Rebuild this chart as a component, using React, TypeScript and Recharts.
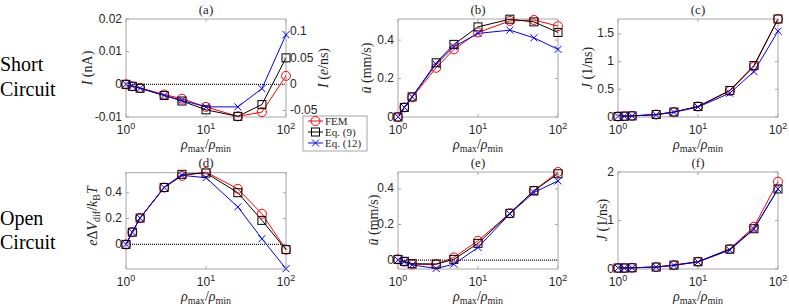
import React from "react";
import { LineChart, Line, XAxis, YAxis, ReferenceLine, ReferenceArea } from "recharts";

// density ratio rho_max / rho_min
const rho = [1, 1.2, 1.5, 3, 5, 10, 25, 50, 100];

// (a) short circuit current I (nA)
const aFem = [0, -0.0006, -0.0011, -0.0031, -0.0044, -0.0069, -0.0098, -0.0085, 0.0026];
const aEq9 = [0, -0.0006, -0.0012, -0.0034, -0.0051, -0.0078, -0.0098, -0.0062, 0.0081];
const aEq12 = [0, -0.0005, -0.0012, -0.0034, -0.0049, -0.0069, -0.0069, -0.0013, 0.0152];
// 1 nA expressed in e/ns, for the right hand axis of (a)
const NA_TO_E_PER_NS = 6.2415;

// (b) short circuit mean velocity (mm/s)
const bFem = [0, 0.05, 0.102, 0.256, 0.352, 0.44, 0.5, 0.505, 0.473];
const bEq9 = [0, 0.05, 0.105, 0.282, 0.378, 0.469, 0.509, 0.495, 0.44];
const bEq12 = [0, 0.05, 0.105, 0.275, 0.366, 0.435, 0.452, 0.412, 0.352];

// (c) short circuit flux J (1/ns)
const cFem = [0.01, 0.015, 0.02, 0.045, 0.09, 0.19, 0.47, 0.91, 1.77];
const cEq9 = [0.01, 0.015, 0.02, 0.045, 0.09, 0.19, 0.48, 0.93, 1.77];
const cEq12 = [0.01, 0.015, 0.02, 0.04, 0.085, 0.18, 0.43, 0.82, 1.55];

// (d) open circuit diffusion potential
const dFem = [0, 0.095, 0.204, 0.44, 0.53, 0.56, 0.43, 0.237, -0.04];
const dEq9 = [0, 0.095, 0.204, 0.44, 0.542, 0.552, 0.4, 0.186, -0.04];
const dEq12 = [0, 0.095, 0.204, 0.44, 0.534, 0.516, 0.29, 0.044, -0.188];

// (e) open circuit mean velocity (mm/s)
const eFem = [0.004, -0.009, -0.024, -0.024, 0.015, 0.109, 0.263, 0.39, 0.495];
const eEq9 = [0.004, -0.007, -0.02, -0.022, 0.004, 0.094, 0.263, 0.39, 0.485];
const eEq12 = [0, -0.01, -0.027, -0.047, -0.023, 0.071, 0.26, 0.38, 0.445];

// (f) open circuit flux J (1/ns)
const fFem = [0.02, 0.02, 0.025, 0.04, 0.08, 0.15, 0.41, 0.87, 1.8];
const fEq9 = [0.02, 0.02, 0.025, 0.04, 0.08, 0.15, 0.41, 0.83, 1.65];
const fEq12 = [0.02, 0.02, 0.025, 0.04, 0.075, 0.145, 0.39, 0.82, 1.65];

const xTicks = [1, 10, 100];

const RED = "#ff0000";
const BLACK = "#000000";
const BLUE = "#0000ff";
const BOX = "#a6a6a6";
const TXT = "#262626";
const SANS = "'Liberation Sans', Arial, sans-serif";
const SERIF = "'Liberation Serif', 'Times New Roman', serif";

const PAD_L = 50;
const PAD_R = 50;
const PAD_T = 10;
const PAD_B = 30;

const circleDot = (p: any) => (
  <circle key={p.index} cx={p.cx} cy={p.cy} r={4.5} fill="none" stroke={RED} strokeWidth={1} />
);
const squareDot = (p: any) => (
  <rect key={p.index} x={p.cx - 4} y={p.cy - 4} width={8} height={8} fill="none" stroke={BLACK} strokeWidth={1} />
);
const crossDot = (p: any) => (
  <path
    key={p.index}
    d={`M${p.cx - 3.5},${p.cy - 3.5}L${p.cx + 3.5},${p.cy + 3.5}M${p.cx - 3.5},${p.cy + 3.5}L${p.cx + 3.5},${p.cy - 3.5}`}
    stroke={BLUE}
    strokeWidth={1}
  />
);

function XTick(props: any) {
  const { x, y, payload, h } = props;
  const exp = Math.round(Math.log10(payload.value));
  return (
    <g>
      <line x1={x} y1={y} x2={x} y2={y - 3} stroke={BOX} />
      <line x1={x} y1={y - h} x2={x} y2={y - h + 3} stroke={BOX} />
      <text x={x} y={y + 17} textAnchor="middle" fontFamily={SANS} fontSize={12} fill={TXT}>
        10
        <tspan dy={-5} fontSize={9}>
          {exp}
        </tspan>
      </text>
    </g>
  );
}

function YTick(props: any) {
  const { x, y, payload, w, side } = props;
  const right = side === "right";
  const dir = right ? -1 : 1;
  return (
    <g>
      <line x1={x} y1={y} x2={x + 3 * dir} y2={y} stroke={BOX} />
      {!right && w ? <line x1={x + w} y1={y} x2={x + w - 3} y2={y} stroke={BOX} /> : null}
      <text
        x={x - 4 * dir}
        y={y + 3.5}
        textAnchor={right ? "start" : "end"}
        fontFamily={SANS}
        fontSize={12}
        fill={TXT}
      >
        {String(payload.value)}
      </text>
    </g>
  );
}

interface PanelProps {
  left: number;
  top: number;
  w: number;
  h: number;
  fem: number[];
  eq9: number[];
  eq12: number[];
  domain: [number, number];
  ticks: number[];
  zero?: boolean;
  right?: { domain: [number, number]; ticks: number[]; factor: number };
}

function Panel(p: PanelProps) {
  const data = rho.map((x, i) => ({
    x,
    fem: p.fem[i],
    eq9: p.eq9[i],
    eq12: p.eq12[i],
    rfem: p.right ? p.fem[i] * p.right.factor : null,
  }));
  const width = p.w + PAD_L + PAD_R;
  const height = p.h + PAD_T + PAD_B;
  return (
    <div style={{ position: "absolute", left: p.left - PAD_L, top: p.top - PAD_T }}>
      <LineChart
        width={width}
        height={height}
        data={data}
        margin={{ top: PAD_T, right: p.right ? 0 : PAD_R, bottom: 0, left: 0 }}
      >
        <XAxis
          dataKey="x"
          type="number"
          scale="log"
          domain={[1, 100]}
          ticks={xTicks}
          interval={0}
          height={PAD_B}
          axisLine={false}
          tickLine={false}
          tickSize={0}
          tickMargin={0}
          tick={(t: any) => <XTick {...t} h={p.h} />}
        />
        <YAxis
          yAxisId="l"
          type="number"
          domain={p.domain}
          ticks={p.ticks}
          interval={0}
          width={PAD_L}
          axisLine={false}
          tickLine={false}
          tickSize={0}
          tickMargin={0}
          tick={(t: any) => <YTick {...t} w={p.right ? 0 : p.w} side="left" />}
        />
        {p.right ? (
          <YAxis
            yAxisId="r"
            orientation="right"
            type="number"
            domain={p.right.domain}
            ticks={p.right.ticks}
            interval={0}
            width={PAD_R}
            axisLine={false}
            tickLine={false}
            tickSize={0}
            tickMargin={0}
            tick={(t: any) => <YTick {...t} side="right" />}
          />
        ) : null}
        <ReferenceArea
          yAxisId="l"
          x1={1}
          x2={100}
          y1={p.domain[0]}
          y2={p.domain[1]}
          fill="none"
          fillOpacity={0}
          stroke={BOX}
          strokeWidth={1}
        />
        {p.zero ? (
          <ReferenceLine yAxisId="l" y={0} stroke="#1a1a1a" strokeWidth={1.2} strokeDasharray="1 1" />
        ) : null}
        {p.right ? (
          <Line
            yAxisId="r"
            dataKey="rfem"
            stroke="none"
            dot={false}
            activeDot={false}
            legendType="none"
            isAnimationActive={false}
          />
        ) : null}
        <Line yAxisId="l" dataKey="fem" stroke={RED} strokeWidth={1} dot={circleDot} activeDot={false} isAnimationActive={false} />
        <Line yAxisId="l" dataKey="eq9" stroke={BLACK} strokeWidth={1} dot={squareDot} activeDot={false} isAnimationActive={false} />
        <Line yAxisId="l" dataKey="eq12" stroke={BLUE} strokeWidth={1} dot={crossDot} activeDot={false} isAnimationActive={false} />
      </LineChart>
    </div>
  );
}

const cols = [
  { left: 126, w: 160 },
  { left: 398, w: 160 },
  { left: 618, w: 160 },
];
const rows = [
  { top: 19, h: 98 },
  { top: 172, h: 97 },
];

function RhoLabel({ cx, y }: { cx: number; y: number }) {
  return (
    <text x={cx} y={y} textAnchor="middle" fontFamily={SERIF} fontSize={14} fill={TXT}>
      <tspan fontStyle="italic">ρ</tspan>
      <tspan fontSize={10} dy={3}>max</tspan>
      <tspan dy={-3}>/</tspan>
      <tspan fontStyle="italic">ρ</tspan>
      <tspan fontSize={10} dy={3}>min</tspan>
    </text>
  );
}

function VLabel({ x, y, children }: { x: number; y: number; children: React.ReactNode }) {
  return (
    <text
      transform={`translate(${x},${y}) rotate(-90)`}
      textAnchor="middle"
      fontFamily={SERIF}
      fontSize={14}
      fill={TXT}
    >
      {children}
    </text>
  );
}

function Overlay() {
  const titles = ["(a)", "(b)", "(c)", "(d)", "(e)", "(f)"];
  return (
    <svg
      width={789}
      height={307}
      style={{ position: "absolute", left: 0, top: 0, pointerEvents: "none" }}
    >
      {/* row labels */}
      <g fontFamily={SERIF} fontSize={20} fill="#000">
        <text x={0} y={71}>Short</text>
        <text x={0} y={96}>Circuit</text>
        <text x={0} y={225}>Open</text>
        <text x={0} y={249}>Circuit</text>
      </g>

      {/* panel titles */}
      {titles.map((t, i) => {
        const c = cols[i % 3];
        const r = rows[Math.floor(i / 3)];
        return (
          <text
            key={t}
            x={c.left + c.w / 2}
            y={r.top - 5}
            textAnchor="middle"
            fontFamily={SERIF}
            fontSize={13}
            fill={TXT}
          >
            {t}
          </text>
        );
      })}

      {/* x labels */}
      {rows.map((r, ri) =>
        cols.map((c, ci) => (
          <RhoLabel key={`${ri}-${ci}`} cx={c.left + c.w / 2} y={r.top + r.h + 32} />
        ))
      )}

      {/* y labels */}
      <VLabel x={92} y={68}>
        <tspan fontStyle="italic">I</tspan> (nA)
      </VLabel>
      <VLabel x={328} y={68}>
        <tspan fontStyle="italic">I</tspan> (<tspan fontStyle="italic">e</tspan>/ns)
      </VLabel>
      <VLabel x={371} y={68}>
        <tspan fontStyle="italic">ū</tspan> (mm/s)
      </VLabel>
      <VLabel x={592} y={68}>
        <tspan fontStyle="italic">J</tspan> (1/ns)
      </VLabel>
      <VLabel x={97} y={216}>
        <tspan fontStyle="italic">e</tspan>Δ<tspan fontStyle="italic">V</tspan>
        <tspan fontSize={10} dy={3}>dif</tspan>
        <tspan dy={-3}>/</tspan>
        <tspan fontStyle="italic">k</tspan>
        <tspan fontSize={10} dy={3}>B</tspan>
        <tspan dy={-3} fontStyle="italic">T</tspan>
      </VLabel>
      <VLabel x={378} y={220}>
        <tspan fontStyle="italic">ū</tspan> (mm/s)
      </VLabel>
      <VLabel x={607} y={220}>
        <tspan fontStyle="italic">J</tspan> (1/ns)
      </VLabel>

      {/* legend */}
      <rect x={303} y={116} width={64} height={35} fill="#fff" stroke={BOX} />
      <g fontFamily={SERIF} fontSize={11} fill={TXT}>
        <line x1={308} y1={121} x2={323} y2={121} stroke={RED} />
        <circle cx={315.5} cy={121} r={4.5} fill="none" stroke={RED} />
        <text x={325} y={125}>FEM</text>
        <line x1={308} y1={132} x2={323} y2={132} stroke={BLACK} />
        <rect x={311.5} y={128} width={8} height={8} fill="none" stroke={BLACK} />
        <text x={325} y={136}>Eq. (9)</text>
        <line x1={308} y1={143} x2={323} y2={143} stroke={BLUE} />
        <path d="M312,139.5L319,146.5M312,146.5L319,139.5" stroke={BLUE} />
        <text x={325} y={147}>Eq. (12)</text>
      </g>
    </svg>
  );
}

export default function App() {
  const [c0, c1, c2] = cols;
  const [r0, r1] = rows;
  return (
    <div
      style={{
        position: "absolute",
        left: 0,
        top: 0,
        width: 789,
        height: 307,
        background: "#fff",
        overflow: "hidden",
      }}
    >
      <Panel
        left={c0.left}
        top={r0.top}
        w={c0.w}
        h={r0.h}
        fem={aFem}
        eq9={aEq9}
        eq12={aEq12}
        domain={[-0.01, 0.02]}
        ticks={[-0.01, 0, 0.01, 0.02]}
        zero
        right={{ domain: [-0.0624, 0.1248], ticks: [-0.05, 0, 0.05, 0.1], factor: NA_TO_E_PER_NS }}
      />
      <Panel left={c1.left} top={r0.top} w={c1.w} h={r0.h} fem={bFem} eq9={bEq9} eq12={bEq12} domain={[0, 0.51]} ticks={[0, 0.2, 0.4]} />
      <Panel left={c2.left} top={r0.top} w={c2.w} h={r0.h} fem={cFem} eq9={cEq9} eq12={cEq12} domain={[0, 1.77]} ticks={[0, 0.5, 1, 1.5]} />
      <Panel left={c0.left} top={r1.top} w={c0.w} h={r1.h} fem={dFem} eq9={dEq9} eq12={dEq12} domain={[-0.19, 0.555]} ticks={[0, 0.2, 0.4]} zero />
      <Panel left={c1.left} top={r1.top} w={c1.w} h={r1.h} fem={eFem} eq9={eEq9} eq12={eEq12} domain={[-0.05, 0.495]} ticks={[0, 0.2, 0.4]} zero />
      <Panel left={c2.left} top={r1.top} w={c2.w} h={r1.h} fem={fFem} eq9={fEq9} eq12={fEq12} domain={[0, 2]} ticks={[0, 1, 2]} />
      <Overlay />
    </div>
  );
}
